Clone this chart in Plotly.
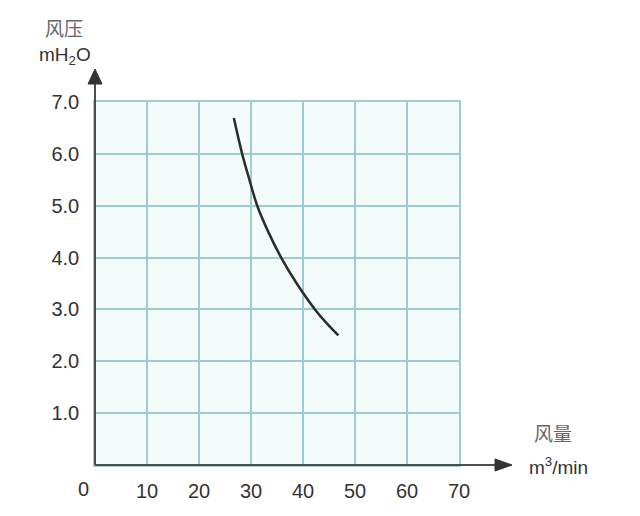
import plotly.graph_objects as go

# Data (air flow m3/min vs air pressure mH2O)
flow = [26.7, 28.3, 29.7, 31.2, 33.3, 35.8, 38.8, 42.3, 44.4, 46.8]
pressure = [6.69, 6.00, 5.50, 5.00, 4.50, 4.00, 3.50, 3.00, 2.75, 2.50]

x_ticks = [10, 20, 30, 40, 50, 60, 70]
x_labels = ["10", "20", "30", "40", "50", "60", "70"]
y_ticks = [1, 2, 3, 4, 5, 6, 7]
y_labels = ["1.0", "2.0", "3.0", "4.0", "5.0", "6.0", "7.0"]

grid_color = "#9fcdcd"
axis_color = "#4d4d4d"
text_color = "#333333"
font_fam = "Liberation Sans, Arial, sans-serif"
cjk_fam = "Noto Sans CJK SC"

# target plot rect on page: x 95..459, y 102..465 (page has 8px body offset)
PL, PR, PT, PB = 95, 459, 102, 465
W = PR - PL
H = PB - PT


def px(xp):
    return (xp - PL) / W


def py(yp):
    return (PB - yp) / H


fig = go.Figure()
fig.add_trace(go.Scatter(
    x=flow, y=pressure, mode="lines",
    line=dict(color="#2b2b2b", width=2.5, shape="spline", smoothing=1.0),
    showlegend=False, hoverinfo="skip",
))

fig.update_layout(
    width=640, height=516,
    margin=dict(l=PL - 8, r=640 - (PR - 8), t=PT - 8, b=516 - (PB - 8), autoexpand=False),
    paper_bgcolor="white",
    plot_bgcolor="#f3fbfb",
    xaxis=dict(
        range=[0, 70], tickvals=x_ticks, ticktext=x_labels,
        showgrid=True, gridcolor=grid_color, gridwidth=1.5,
        zeroline=False, showline=True, mirror=True, linecolor=grid_color, linewidth=1.5,
        ticks="outside", ticklen=7, tickcolor="rgba(0,0,0,0)",
        tickfont=dict(family=font_fam, size=20, color=text_color),
        fixedrange=True,
    ),
    yaxis=dict(
        range=[0, 7], tickvals=y_ticks, ticktext=y_labels,
        showgrid=True, gridcolor=grid_color, gridwidth=1.5,
        zeroline=False, showline=True, mirror=True, linecolor=grid_color, linewidth=1.5,
        ticks="outside", ticklen=10, tickcolor="rgba(0,0,0,0)",
        tickfont=dict(family=font_fam, size=20, color=text_color),
        fixedrange=True,
    ),
)

# Axis lines with arrows (paper coordinates, extending beyond plot area)
fig.add_shape(type="line", xref="paper", yref="paper", x0=0, y0=0, x1=px(496), y1=0,
              line=dict(color=axis_color, width=2))
fig.add_shape(type="path", xref="paper", yref="paper",
              path=f"M {px(495)} {py(459)} L {px(512)} {py(465)} L {px(495)} {py(471)} Z",
              fillcolor="#333333", line=dict(color="#333333", width=1))
fig.add_shape(type="line", xref="paper", yref="paper", x0=0, y0=0, x1=0, y1=py(83),
              line=dict(color=axis_color, width=2))
fig.add_shape(type="path", xref="paper", yref="paper",
              path=f"M {px(88)} {py(84)} L {px(95)} {py(69)} L {px(102)} {py(84)} Z",
              fillcolor="#333333", line=dict(color="#333333", width=1))

# Origin label
fig.add_annotation(xref="paper", yref="paper", x=px(83), y=py(489), text="0",
                   xanchor="center", yanchor="middle",
                   showarrow=False, font=dict(family=font_fam, size=20, color=text_color))

# Axis titles
fig.add_annotation(xref="paper", yref="paper", x=px(64), y=py(27),
                   xanchor="center", yanchor="middle",
                   text="风压", showarrow=False,
                   font=dict(family=cjk_fam, size=19, color="#666666"))
fig.add_annotation(xref="paper", yref="paper", x=px(65), y=py(56),
                   xanchor="center", yanchor="middle",
                   text="mH<sub>2</sub>O", showarrow=False,
                   font=dict(family=font_fam, size=19, color=text_color))
fig.add_annotation(xref="paper", yref="paper", x=px(553), y=py(432),
                   xanchor="center", yanchor="middle",
                   text="风量", showarrow=False,
                   font=dict(family=cjk_fam, size=19, color="#666666"))
fig.add_annotation(xref="paper", yref="paper", x=px(558), y=py(466),
                   xanchor="center", yanchor="middle",
                   text="m<sup>3</sup>/min", showarrow=False,
                   font=dict(family=font_fam, size=19, color=text_color))

fig.write_html("out.html")
